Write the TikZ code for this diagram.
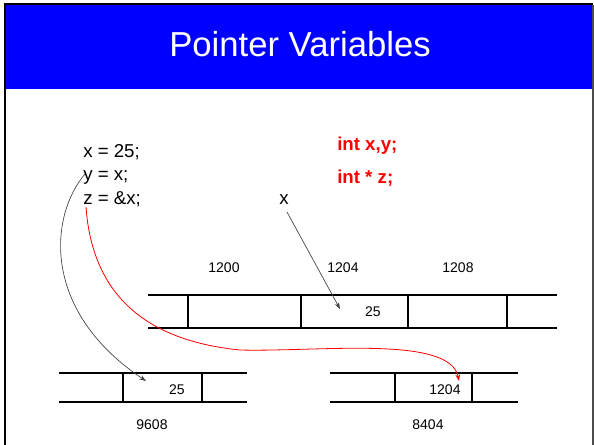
\documentclass[tikz,border=0pt]{standalone}
\usepackage{fontspec}
\setmainfont{Liberation Sans}
\usetikzlibrary{positioning,arrows.meta,calc}

\begin{document}
\begin{tikzpicture}[x=0.75pt,y=-0.75pt,
  >={Stealth[length=5pt,width=3.5pt]},
  %--- text styles ---
  title/.style  ={anchor=base,text=white,inner sep=0pt,font=\fontsize{26}{32}\selectfont},
  code/.style   ={anchor=base west,inner sep=0pt,text=black,font=\fontsize{14}{16}\selectfont},
  decl/.style   ={anchor=base west,inner sep=0pt,text=red,font=\fontsize{14}{16}\selectfont\bfseries},
  addr/.style   ={inner sep=0pt,text=black,font=\fontsize{10.5}{12}\selectfont},
  %--- line styles ---
  memline/.style={draw=black,line width=1pt},
  ptr/.style    ={->,draw=black!75,line width=0.5pt},
  ref/.style    ={->,draw=red,line width=0.6pt},
]
\useasboundingbox (0,0) rectangle (594,444);

%==================== slide frame and title ====================
\fill[blue] (6,5) rectangle (593,89);
\draw[black,line width=2pt] (5,450) -- (5,4) -- (593,4);
\draw[black!70,line width=0.8pt] (593,5) -- (593,450);
\node[title] (ttl) at (300,56) {Pointer Variables};

%==================== code ====================
\node[code] (cx) at (83,157) {x = 25;};
\node[code] (cy) at (83,180) {y = x;};
\node[code] (cz) at (83,204) {z = \&x;};
\node[decl] (dxy) at (337,150) {int x,y;};
\node[decl] (dz)  at (337,183) {int * z;};
\node[code] (xlbl) at (279,204) {x};

%==================== memory: x row ====================
\draw[memline] (148,295) -- (557,295);
\draw[memline] (148,328) -- (557,328);
\foreach \c in {188,301,408,507}
  \draw[memline] (\c,295) -- (\c,328);
\node[addr] (a1200) at (224,268) {1200};
\node[addr] (a1204) at (343,268) {1204};
\node[addr] (a1208) at (458,268) {1208};
\node[addr] (vx) at (373,312) {25};

%==================== memory: y cell ====================
\draw[memline] (59,373) -- (247,373);
\draw[memline] (59,402) -- (247,402);
\foreach \c in {123,202}
  \draw[memline] (\c,373) -- (\c,402);
\node[addr] (vy) at (177,390) {25};
\node[addr] (a9608) at (152,425) {9608};

%==================== memory: z cell ====================
\draw[memline] (330,373) -- (518,373);
\draw[memline] (330,402) -- (518,402);
\foreach \c in {395,472}
  \draw[memline] (\c,373) -- (\c,402);
\node[addr] (vz) at (445,390) {1204};
\node[addr] (a8404) at (428,425) {8404};

%==================== arrows ====================
\coordinate (xs) at (287,212);
\coordinate (xt) at (340,309);
\coordinate (ys) at (85,174);
\coordinate (yt) at (146,381);
\coordinate (zs) at (86,207);
\coordinate (zm) at (240,350);
\coordinate (zt) at (459,381);

\draw[ptr] (xs) -- (xt);
\draw[ptr] (ys) .. controls (50,215) and (40,310) .. (yt);
\draw[ref] (zs) .. controls (92,290) and (140,340) .. (zm)
                .. controls (320,352) and (450,335) .. (zt);

\end{tikzpicture}
\end{document}
